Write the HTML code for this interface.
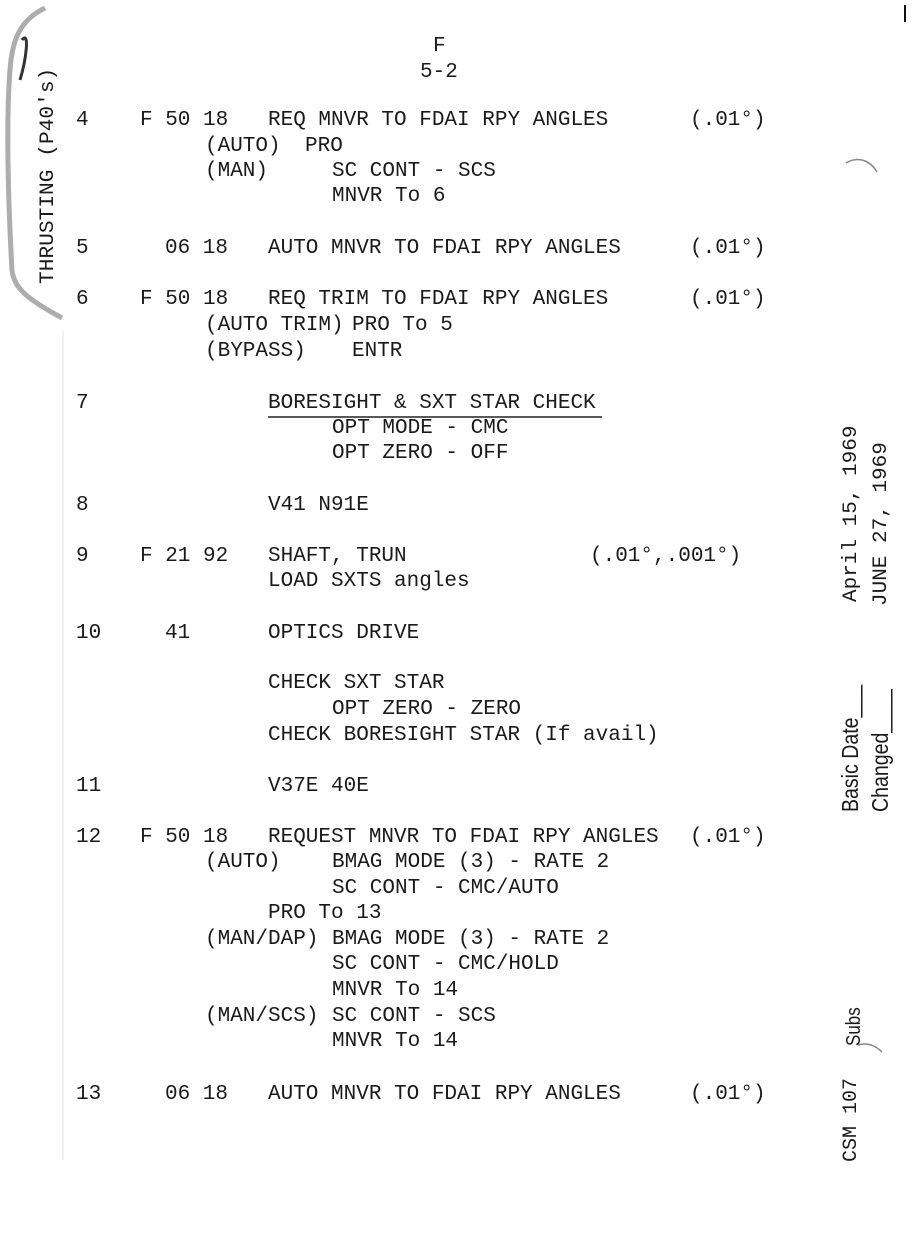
<!DOCTYPE html>
<html><head><meta charset="utf-8"><style>
body{margin:0;background:#fff;}
#p{position:relative;width:918px;height:1235px;overflow:hidden;background:#fff;}
.t{position:absolute;font-family:"Liberation Mono",monospace;font-size:21px;line-height:25px;white-space:pre;color:#1a1a1a;margin-top:3px;}
.r{position:absolute;white-space:pre;transform-origin:0 0;transform:rotate(-90deg);color:#1a1a1a;}
</style></head><body><div id="p">
<svg width="918" height="1235" style="position:absolute;left:0;top:0">
<path d="M45 8 C20 20 12 40 10 70 C6 120 8 200 12 270 C14 290 30 300 62 318" fill="none" stroke="#777" stroke-width="5" opacity="0.6"/>
<path d="M22 40 C30 30 26 60 20 80" fill="none" stroke="#333" stroke-width="3"/>
<line x1="63" y1="330" x2="63" y2="1160" stroke="#e4e4e4" stroke-width="1"/>
<line x1="905" y1="5" x2="905" y2="22" stroke="#111" stroke-width="2"/>
<path d="M846 163 C858 156 870 160 877 172" fill="none" stroke="#888" stroke-width="1.5"/>
<path d="M858 1045 C868 1042 876 1046 882 1052" fill="none" stroke="#888" stroke-width="1.5"/>
<line x1="268" y1="417" x2="602" y2="417" stroke="#222" stroke-width="1.5"/>
</svg>

<div class="t" style="left:433px;top:31px">F</div>
<div class="t" style="left:420px;top:57px">5-2</div>

<div class="t" style="left:76px;top:105px">4</div>
<div class="t" style="left:140px;top:105px">F 50 18</div>
<div class="t" style="left:268px;top:105px">REQ MNVR TO FDAI RPY ANGLES</div>
<div class="t" style="left:690px;top:105px">(.01°)</div>
<div class="t" style="left:205px;top:131px">(AUTO)</div>
<div class="t" style="left:305px;top:131px">PRO</div>
<div class="t" style="left:205px;top:156px">(MAN)</div>
<div class="t" style="left:332px;top:156px">SC CONT - SCS</div>
<div class="t" style="left:332px;top:181px">MNVR To 6</div>

<div class="t" style="left:76px;top:233px">5</div>
<div class="t" style="left:165px;top:233px">06 18</div>
<div class="t" style="left:268px;top:233px">AUTO MNVR TO FDAI RPY ANGLES</div>
<div class="t" style="left:690px;top:233px">(.01°)</div>

<div class="t" style="left:76px;top:284px">6</div>
<div class="t" style="left:140px;top:284px">F 50 18</div>
<div class="t" style="left:268px;top:284px">REQ TRIM TO FDAI RPY ANGLES</div>
<div class="t" style="left:690px;top:284px">(.01°)</div>
<div class="t" style="left:205px;top:310px">(AUTO TRIM)</div>
<div class="t" style="left:352px;top:310px">PRO To 5</div>
<div class="t" style="left:205px;top:336px">(BYPASS)</div>
<div class="t" style="left:352px;top:336px">ENTR</div>

<div class="t" style="left:76px;top:388px">7</div>
<div class="t" style="left:268px;top:388px">BORESIGHT &amp; SXT STAR CHECK</div>
<div class="t" style="left:332px;top:413px">OPT MODE - CMC</div>
<div class="t" style="left:332px;top:438px">OPT ZERO - OFF</div>

<div class="t" style="left:76px;top:490px">8</div>
<div class="t" style="left:268px;top:490px">V41 N91E</div>

<div class="t" style="left:76px;top:541px">9</div>
<div class="t" style="left:140px;top:541px">F 21 92</div>
<div class="t" style="left:268px;top:541px">SHAFT, TRUN</div>
<div class="t" style="left:590px;top:541px">(.01°,.001°)</div>
<div class="t" style="left:268px;top:566px">LOAD SXTS angles</div>

<div class="t" style="left:76px;top:618px">10</div>
<div class="t" style="left:165px;top:618px">41</div>
<div class="t" style="left:268px;top:618px">OPTICS DRIVE</div>
<div class="t" style="left:268px;top:668px">CHECK SXT STAR</div>
<div class="t" style="left:332px;top:694px">OPT ZERO - ZERO</div>
<div class="t" style="left:268px;top:720px">CHECK BORESIGHT STAR (If avail)</div>

<div class="t" style="left:76px;top:771px">11</div>
<div class="t" style="left:268px;top:771px">V37E 40E</div>

<div class="t" style="left:76px;top:822px">12</div>
<div class="t" style="left:140px;top:822px">F 50 18</div>
<div class="t" style="left:268px;top:822px">REQUEST MNVR TO FDAI RPY ANGLES</div>
<div class="t" style="left:690px;top:822px">(.01°)</div>
<div class="t" style="left:205px;top:847px">(AUTO)</div>
<div class="t" style="left:332px;top:847px">BMAG MODE (3) - RATE 2</div>
<div class="t" style="left:332px;top:873px">SC CONT - CMC/AUTO</div>
<div class="t" style="left:268px;top:898px">PRO To 13</div>
<div class="t" style="left:205px;top:924px">(MAN/DAP)</div>
<div class="t" style="left:332px;top:924px">BMAG MODE (3) - RATE 2</div>
<div class="t" style="left:332px;top:949px">SC CONT - CMC/HOLD</div>
<div class="t" style="left:332px;top:975px">MNVR To 14</div>
<div class="t" style="left:205px;top:1001px">(MAN/SCS)</div>
<div class="t" style="left:332px;top:1001px">SC CONT - SCS</div>
<div class="t" style="left:332px;top:1026px">MNVR To 14</div>

<div class="t" style="left:76px;top:1079px">13</div>
<div class="t" style="left:165px;top:1079px">06 18</div>
<div class="t" style="left:268px;top:1079px">AUTO MNVR TO FDAI RPY ANGLES</div>
<div class="t" style="left:690px;top:1079px">(.01°)</div>

<div class="r" style="left:37px;top:284px;font-family:'Liberation Mono',monospace;font-size:20px;line-height:24px;transform:rotate(-90deg) scaleX(1.06)">THRUSTING (P40's)</div>

<div class="r" style="left:836px;top:812px;font-family:'Liberation Sans',sans-serif;font-size:23px;line-height:28px;transform:rotate(-90deg) scaleX(0.85)">Basic Date___</div>
<div class="r" style="left:866px;top:812px;font-family:'Liberation Sans',sans-serif;font-size:23px;line-height:28px;transform:rotate(-90deg) scaleX(0.85)">Changed____</div>
<div class="r" style="left:840px;top:602px;font-family:'Liberation Mono',monospace;font-size:20px;line-height:24px;transform:rotate(-90deg) scaleX(1.05)">April 15, 1969</div>
<div class="r" style="left:870px;top:606px;font-family:'Liberation Mono',monospace;font-size:20px;line-height:24px;transform:rotate(-90deg) scaleX(1.05)">JUNE 27, 1969</div>
<div class="r" style="left:840px;top:1162px;font-family:'Liberation Mono',monospace;font-size:20px;line-height:24px;transform:rotate(-90deg) scaleX(1.0)">CSM 107</div>
<div class="r" style="left:842px;top:1046px;font-family:'Liberation Sans',sans-serif;font-size:20px;line-height:24px;transform:rotate(-90deg) scaleX(0.85)">Subs</div>
</div></body></html>
